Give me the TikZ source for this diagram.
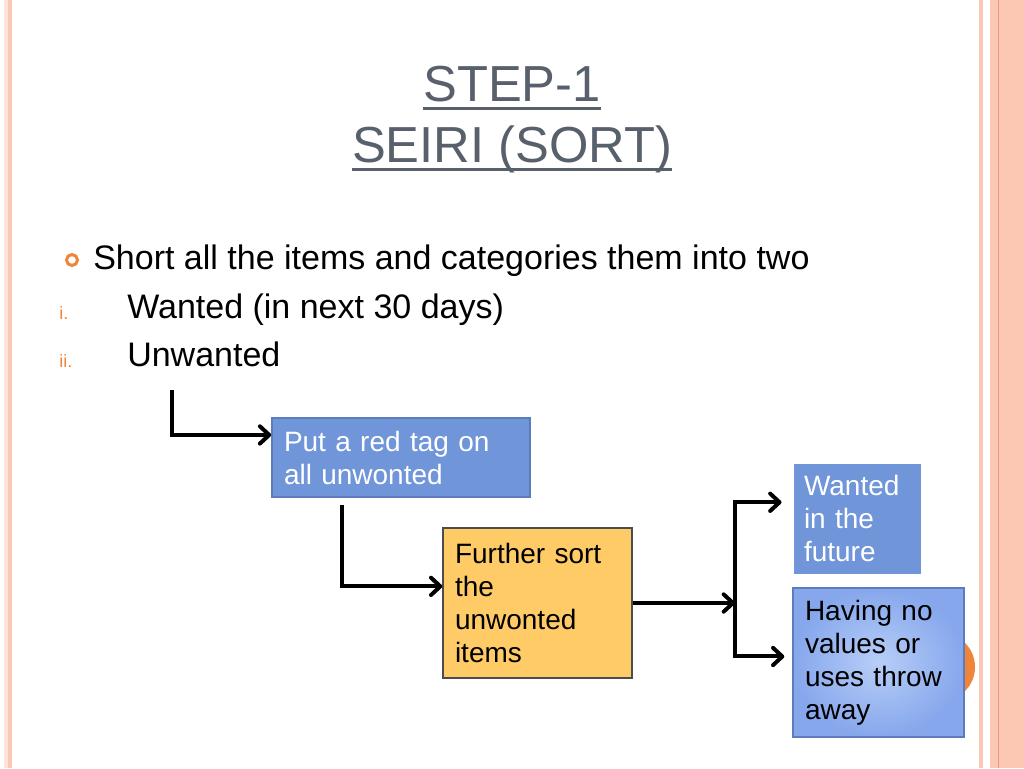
\documentclass[tikz,border=0pt]{standalone}
\usepackage{fontspec}
\setmainfont{Liberation Sans}
\usetikzlibrary{positioning,calc,arrows.meta,shadows}

\definecolor{slideGray}{HTML}{58606C}
\definecolor{accentOrange}{HTML}{F0853A}
\definecolor{edgePink}{HTML}{FCC8B4}
\definecolor{edgePale}{HTML}{FBE4D8}
\definecolor{edgeDark}{HTML}{E39C7E}
\definecolor{boxBlue}{HTML}{7095D9}
\definecolor{boxBlueEdge}{HTML}{5C7CBB}
\definecolor{boxOrange}{HTML}{FFCB66}
\definecolor{lightBlueIn}{HTML}{B8CEF8}
\definecolor{lightBlueOut}{HTML}{86A7EC}

\tikzstyle{titleText} = [inner sep=0pt, text=slideGray, font={\fontsize{38}{44}\selectfont}]
\tikzstyle{bodyText} = [inner sep=0pt, text=black, font={\fontsize{25.5}{30}\selectfont}]
\tikzstyle{romanNum} = [inner sep=0pt, text=accentOrange, font={\fontsize{13.5}{16}\selectfont}]
\tikzstyle{boxText} = [rectangle, align=left, inner xsep=9pt, inner ysep=0pt, font={\fontsize{21}{24.75}\selectfont}]
\tikzstyle{blueBox} = [boxText, draw=boxBlueEdge, line width=1.2pt, fill=boxBlue, text=white]
\tikzstyle{orangeBox} = [boxText, draw=black!70, line width=1pt, fill=boxOrange, text=black]
\tikzstyle{lightBox} = [boxText, draw=boxBlueEdge, line width=1pt, inner color=lightBlueIn, outer color=lightBlueOut, text=black]
\tikzstyle{arrowLine} = [line width=3pt, -{Straight Barb[length=7pt,width=13pt,round]}]

\begin{document}
\begin{tikzpicture}[x=0.75pt, y=-0.75pt]
            \useasboundingbox (0,0) rectangle (1024,768);
            \fill[white] (0,0) rectangle (1024,768);
            % slide edges
            \fill[edgePale] (4,0) rectangle (8,768);
            \fill[edgePink] (8,0) rectangle (12,768);
            \fill[edgePink] (979,0) rectangle (983,768);
            \fill[edgePink] (990,0) rectangle (1024,768);
            \draw[edgeDark, line width=0.75pt] (998,0) -- (998,768);
            \fill[accentOrange] (941,667) circle [radius=25.5pt];

            % title
            \node[titleText, anchor=base] (step) at (512,101) {STEP-1};
            \node[titleText, anchor=base] (seiri) at (512,162) {SEIRI (SORT)};
            \draw[slideGray, line width=2.25pt] ([yshift=-5.25pt]step.base west) -- ([yshift=-5.25pt]step.base east);
            \draw[slideGray, line width=2.25pt] ([yshift=-5.25pt]seiri.base west) -- ([yshift=-5.25pt]seiri.base east);

            % list
            \node[circle, draw=accentOrange, line width=2.25pt, minimum size=8.25pt, inner sep=0pt] (dot) at (72,260) {};
            \node[bodyText, anchor=base west] (short) at (93,269) {Short all the items and categories them into two};
            \node[romanNum, anchor=base west] (num1) at (59,319) {i.};
            \node[bodyText, anchor=base west] (wanted) at (127,318) {Wanted (in next 30 days)};
            \node[romanNum, anchor=base west] (num2) at (59,367) {ii.};
            \node[bodyText, anchor=base west] (unwanted) at (127,366) {Unwanted};

            % boxes
            \node[blueBox, text width=175.5pt, minimum height=59.25pt] (tagBox) at (401,457.5) {Put a red tag on\\all unwonted};
            \node[orangeBox, text width=123.75pt, minimum height=112.5pt] (sortBox) at (537.5,603) {Further sort\\the\\unwonted\\items};
            \node[blueBox, draw=white, line width=2.25pt, text width=79.5pt, minimum height=84.75pt,
                  drop shadow={shadow xshift=1.5pt, shadow yshift=-1.5pt, opacity=0.3}] (futureBox) at (857,518.5) {Wanted\\in the\\future};
            \node[lightBox, text width=110.25pt, minimum height=111.75pt] (throwBox) at (878.5,662.5) {Having no\\values or\\uses throw\\away};

            % connectors
            \coordinate (tagFrom) at (172,390);
            \coordinate (sortFrom) at (342,505);
            \coordinate (fork) at (sortBox.east -| 735,0);
            \draw[arrowLine] (tagFrom) |- ($(tagBox.north west)!0.22!(tagBox.south west)$);
            \draw[arrowLine] (sortFrom) |- ($(sortBox.north west)!0.39!(sortBox.south west)$);
            \draw[arrowLine] (sortBox.east) -- (fork);
            \draw[arrowLine, shorten >=6.75pt] (fork) |- ($(futureBox.north west)!0.36!(futureBox.south west)$);
            \draw[arrowLine, shorten >=6pt] (fork) |- ($(throwBox.north west)!0.46!(throwBox.south west)$);
\end{tikzpicture}
\end{document}
